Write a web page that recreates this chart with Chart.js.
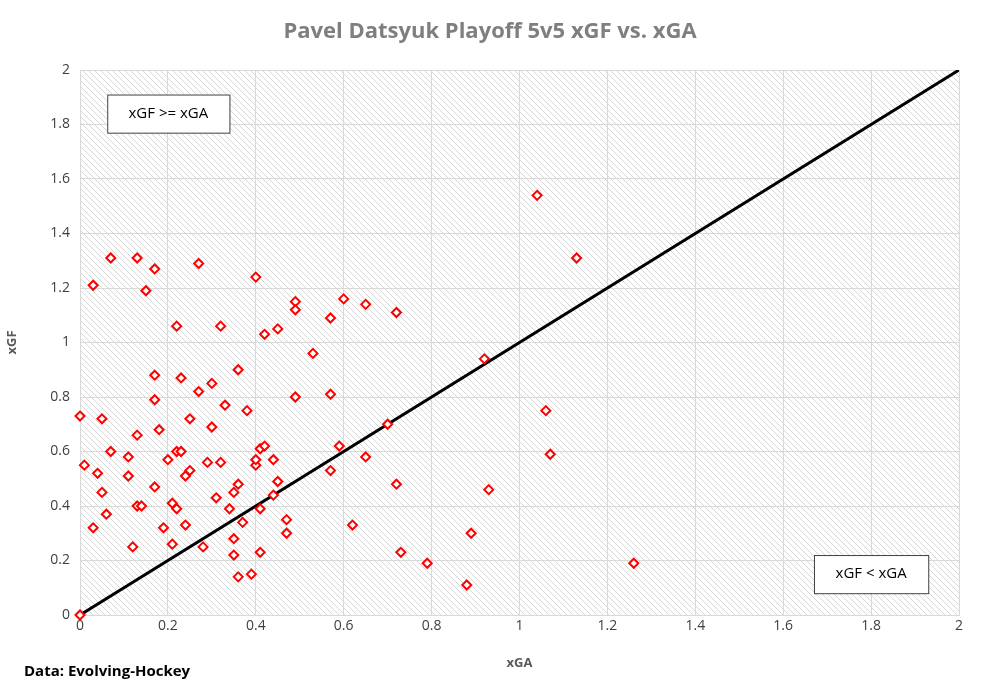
<!DOCTYPE html>
<html><head><meta charset="utf-8">
<script src="https://cdn.jsdelivr.net/npm/chart.js@4"></script>
<style>html,body{margin:0;background:#fff}#wrap{width:981px;height:696px}</style>
</head><body><div id="wrap"><canvas id="c"></canvas></div>
<script>
const xga = [0,0,0.01,0.03,0.03,0.04,0.05,0.05,0.06,0.07,0.07,0.11,0.11,0.12,0.13,0.13,0.13,0.14,0.15,0.17,0.17,0.17,0.17,0.18,0.19,0.20,0.21,0.21,0.22,0.22,0.22,0.23,0.23,0.24,0.24,0.25,0.25,0.27,0.27,0.28,0.29,0.30,0.30,0.31,0.32,0.32,0.33,0.34,0.35,0.35,0.35,0.36,0.36,0.36,0.37,0.38,0.39,0.40,0.40,0.40,0.41,0.41,0.41,0.42,0.42,0.44,0.44,0.45,0.45,0.47,0.47,0.49,0.49,0.49,0.53,0.57,0.57,0.57,0.59,0.60,0.62,0.65,0.65,0.70,0.72,0.72,0.73,0.79,0.88,0.89,0.92,0.93,1.04,1.06,1.07,1.13,1.26];
const xgf = [0,0.73,0.55,1.21,0.32,0.52,0.72,0.45,0.37,0.60,1.31,0.58,0.51,0.25,0.66,1.31,0.40,0.40,1.19,1.27,0.88,0.79,0.47,0.68,0.32,0.57,0.41,0.26,1.06,0.60,0.39,0.60,0.87,0.51,0.33,0.53,0.72,1.29,0.82,0.25,0.56,0.85,0.69,0.43,1.06,0.56,0.77,0.39,0.28,0.22,0.45,0.90,0.48,0.14,0.34,0.75,0.15,1.24,0.55,0.57,0.61,0.39,0.23,1.03,0.62,0.57,0.44,1.05,0.49,0.35,0.30,1.15,1.12,0.80,0.96,1.09,0.81,0.53,0.62,1.16,0.33,1.14,0.58,0.70,1.11,0.48,0.23,0.19,0.11,0.30,0.94,0.46,1.54,0.75,0.59,1.31,0.19];
const lineX = [0,2];
const titleText = "Pavel Datsyuk Playoff 5v5 xGF vs. xGA";
const sourceText = "Data: Evolving-Hockey";
const boxes = [
  {text:"xGF >= xGA", x0:0.062, x1:0.34, y0:1.77, y1:1.91},
  {text:"xGF < xGA", x0:1.67, x1:1.93, y0:0.08, y1:0.22}
];

const hatch = (()=>{const p=document.createElement('canvas');p.width=6;p.height=6;const g=p.getContext('2d');
  g.strokeStyle='#d6d6d6';g.lineWidth=1;g.beginPath();g.moveTo(0,0);g.lineTo(6,6);g.moveTo(-3,3);g.lineTo(3,9);g.moveTo(3,-3);g.lineTo(9,3);g.stroke();return p;})();

const deco = {
  id:'deco',
  beforeDraw(chart){
    const {ctx,chartArea:a}=chart;
    ctx.save();ctx.fillStyle='#fff';ctx.fillRect(0,0,chart.width,chart.height);
    ctx.fillStyle=ctx.createPattern(hatch,'repeat');ctx.fillRect(a.left,a.top,a.right-a.left,a.bottom-a.top);ctx.restore();
  },
  afterDraw(chart){
    const {ctx}=chart;const sx=chart.scales.x, sy=chart.scales.y;
    ctx.save();
    ctx.font='bold 22px "Open Sans", Arial';ctx.fillStyle='#7f7f7f';ctx.textAlign='center';ctx.textBaseline='middle';
    ctx.fillText(titleText,490,32);
    ctx.font='bold 15px "Open Sans", Arial';ctx.fillStyle='#000';ctx.textAlign='left';
    ctx.fillText(sourceText,24,672);
    ctx.font='15px "Open Sans", Arial';
    boxes.forEach(b=>{
      const l=sx.getPixelForValue(b.x0),r=sx.getPixelForValue(b.x1),t=sy.getPixelForValue(b.y1),bt=sy.getPixelForValue(b.y0);
      ctx.fillStyle='#fff';ctx.fillRect(l,t,r-l,bt-t);ctx.strokeStyle='#404040';ctx.lineWidth=1;ctx.strokeRect(l+0.5,t+0.5,r-l,bt-t);
      ctx.fillStyle='#000';ctx.textAlign='center';ctx.fillText(b.text,(l+r)/2,(t+bt)/2);
    });
    ctx.restore();
  }
};

new Chart(document.getElementById('c'),{
  type:'scatter',
  data:{datasets:[
    {data:xga.map((v,i)=>({x:v,y:xgf[i]})),pointStyle:'rectRot',pointRadius:4.5,pointHoverRadius:4.5,borderColor:'#ff0000',borderWidth:2,backgroundColor:'#fff',order:1,clip:false},
    {type:'line',data:lineX.map(v=>({x:v,y:v})),borderColor:'#000',borderWidth:3,pointRadius:0,order:2}
  ]},
  options:{responsive:true,maintainAspectRatio:false,animation:false,
    layout:{padding:{top:70,right:22,bottom:21,left:0}},
    plugins:{legend:{display:false},tooltip:{enabled:false}},
    scales:{
      x:{type:'linear',min:0,max:2,ticks:{stepSize:0.2,color:'#404040',font:{size:14,family:'"Open Sans", Arial'},callback:v=>Math.round(v*10)/10},
        grid:{color:'#d9d9d9',drawTicks:false},border:{color:'#d9d9d9'},
        title:{display:true,text:'xGA',color:'#595959',font:{size:13,weight:'bold',family:'"Open Sans", Arial'}},
        afterFit(s){s.height=60;}},
      y:{min:0,max:2,ticks:{stepSize:0.2,color:'#404040',padding:10,font:{size:14,family:'"Open Sans", Arial'},callback:v=>Math.round(v*10)/10},
        grid:{color:'#d9d9d9',drawTicks:false},border:{color:'#d9d9d9'},
        title:{display:true,text:'xGF',color:'#595959',font:{size:13,weight:'bold',family:'"Open Sans", Arial'}},
        afterFit(s){s.width=80;}}
    }
  },
  plugins:[deco]
});
</script></body></html>
